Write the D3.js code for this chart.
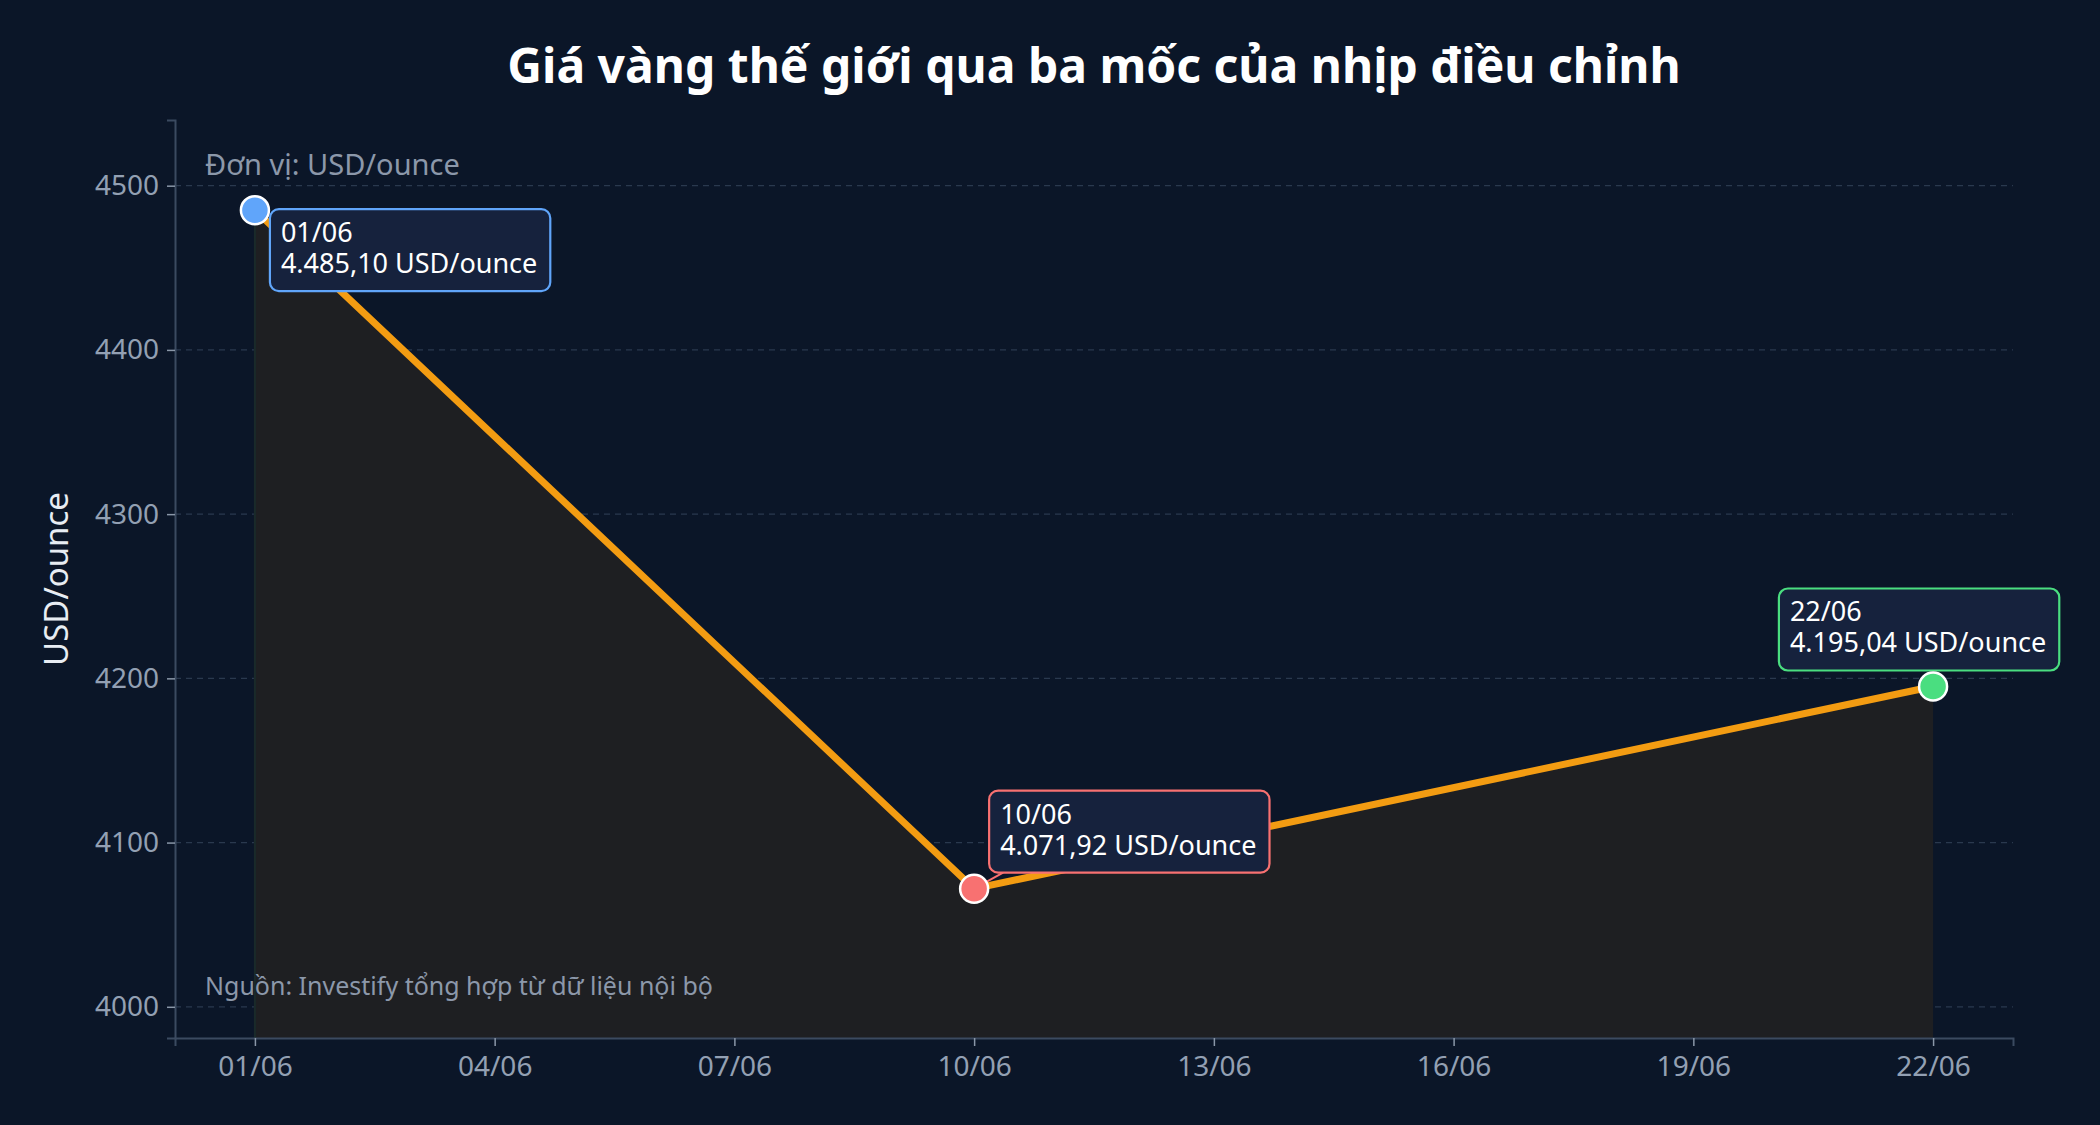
<!DOCTYPE html>
<html>
<head>
<meta charset="utf-8">
<script src="https://cdn.jsdelivr.net/npm/d3@7"></script>
<style>
  html, body { margin: 0; padding: 0; background: #0b1628; }
  body { width: 2100px; height: 1125px; overflow: hidden; font-family: "Noto Sans", sans-serif; }
</style>
</head>
<body>
<div id="chart"></div>
<script>
// data
const pointDates = ["01/06", "10/06", "22/06"];
const prices = [4485.10, 4071.92, 4195.04];
const pointColors = ["#60a5fa", "#f87171", "#4ade80"];
const xTickLabels = ["01/06", "04/06", "07/06", "10/06", "13/06", "16/06", "19/06", "22/06"];
const yTickValues = [4000, 4100, 4200, 4300, 4400, 4500];

const W = 2100, H = 1125;
const margin = { top: 120, right: 87, bottom: 87, left: 175 };
const width = W - margin.left - margin.right;
const height = H - margin.top - margin.bottom;

const parseDay = s => {
    const [d, m] = s.split("/").map(Number);
    return new Date(2025, m - 1, d);
};

const points = pointDates.map((d, i) => ({
    label: d,
    date: parseDay(d),
    value: prices[i],
    color: pointColors[i]
}));

// 4485.1 -> "4.485,10"
const fmtVN = v => {
    const [intPart, dec] = v.toFixed(2).split(".");
    return intPart.replace(/\B(?=(\d{3})+(?!\d))/g, ".") + "," + dec;
};

const svg = d3.select("#chart").append("svg")
    .attr("width", W)
    .attr("height", H);

svg.append("rect").attr("width", W).attr("height", H).attr("fill", "#0b1628");

const g = svg.append("g")
    .attr("transform", `translate(${margin.left},${margin.top})`);

// scales
const x = d3.scaleTime()
    .domain([d3.timeDay.offset(parseDay("01/06"), -1), d3.timeDay.offset(parseDay("22/06"), 1)])
    .range([0, width]);

const y = d3.scaleLinear()
    .domain([3981, 4540])
    .range([height, 0]);

// gridlines
g.append("g")
    .selectAll("line")
    .data(yTickValues)
    .join("line")
    .attr("x1", 0)
    .attr("x2", width)
    .attr("y1", d => y(d))
    .attr("y2", d => y(d))
    .attr("stroke", "#2a394e")
    .attr("stroke-width", 1.2)
    .attr("stroke-dasharray", "6,5");

// area under line
const area = d3.area()
    .x(d => x(d.date))
    .y0(height)
    .y1(d => y(d.value));

g.append("path")
    .datum(points)
    .attr("d", area)
    .attr("fill", "#1e1f22");

g.append("line")
    .attr("x1", x(points[0].date)).attr("x2", x(points[0].date))
    .attr("y1", y(points[0].value)).attr("y2", height)
    .attr("stroke", "#1a2a2a").attr("stroke-width", 2);

// axes
const xAxis = g.append("g")
    .attr("transform", `translate(0,${height})`)
    .call(d3.axisBottom(x)
        .tickValues(xTickLabels.map(parseDay))
        .tickFormat(d3.timeFormat("%d/%m"))
        .tickSizeOuter(0)
        .tickSize(8)
        .tickPadding(10));

const yAxis = g.append("g")
    .call(d3.axisLeft(y)
        .tickValues(yTickValues)
        .tickFormat(d => d)
        .tickSizeOuter(0)
        .tickSize(8)
        .tickPadding(8));

[xAxis, yAxis].forEach(ax => {
    ax.select(".domain").attr("stroke", "#3b4a60").attr("stroke-width", 2);
    ax.selectAll(".tick line").attr("stroke", "#8a97a8").attr("stroke-width", 1.5);
    ax.selectAll(".tick text")
        .attr("fill", "#93a0b3")
        .style("font-family", "Noto Sans")
        .style("font-size", "28px");
});

// line
const line = d3.line()
    .x(d => x(d.date))
    .y(d => y(d.value));

g.append("path")
    .datum(points)
    .attr("d", line)
    .attr("fill", "none")
    .attr("stroke", "#f39c12")
    .attr("stroke-width", 7)
    .attr("stroke-linejoin", "round");

// callouts
const placement = ["right", "upRight", "up"];
points.forEach((p, i) => {
    const px = x(p.date), py = y(p.value);
    const cg = g.append("g");
    const txt = cg.append("text")
        .attr("fill", "#ffffff")
        .style("font-family", "Noto Sans")
        .style("font-size", "27px");
    const t1 = txt.append("tspan").text(p.label);
    const t2 = txt.append("tspan").text(`${fmtVN(p.value)} USD/ounce`);
    const tw = Math.max(t1.node().getComputedTextLength(), t2.node().getComputedTextLength());
    const bw = tw + 24, bh = 82;
    let bx, by;
    if (placement[i] === "right") { bx = px + 15; by = py - 1; }
    else if (placement[i] === "upRight") { bx = px + 15; by = py - 98; }
    else { bx = px - bw / 2 - 14; by = py - 98; }

    if (placement[i] === "upRight") {
        cg.insert("line", "text")
            .attr("x1", px).attr("y1", py)
            .attr("x2", bx + 14).attr("y2", by + bh)
            .attr("stroke", p.color).attr("stroke-width", 2);
    }
    cg.insert("rect", "text")
        .attr("x", bx).attr("y", by)
        .attr("width", bw).attr("height", bh)
        .attr("rx", 9)
        .attr("fill", "#16223d")
        .attr("stroke", p.color)
        .attr("stroke-width", 2.2);
    t1.attr("x", bx + 11).attr("y", by + 33);
    t2.attr("x", bx + 11).attr("y", by + 64);
});

// points
g.selectAll("circle.pt")
    .data(points)
    .join("circle")
    .attr("class", "pt")
    .attr("cx", d => x(d.date))
    .attr("cy", d => y(d.value))
    .attr("r", 14)
    .attr("fill", d => d.color)
    .attr("stroke", "#ffffff")
    .attr("stroke-width", 2.5);

// notes
g.append("text")
    .attr("x", 30)
    .attr("y", 55)
    .attr("fill", "#8c98aa")
    .style("font-size", "29px")
    .text("Đơn vị: USD/ounce");

g.append("text")
    .attr("x", 30)
    .attr("y", height - 43)
    .attr("fill", "#8c98aa")
    .style("font-size", "25px")
    .text("Nguồn: Investify tổng hợp từ dữ liệu nội bộ");

// y label
svg.append("text")
    .attr("transform", `translate(68,${margin.top + height / 2}) rotate(-90)`)
    .attr("text-anchor", "middle")
    .attr("fill", "#e8edf3")
    .style("font-size", "33px")
    .text("USD/ounce");

// title, centred over the plot area
svg.append("text")
    .attr("x", margin.left + width / 2)
    .attr("y", 83)
    .attr("text-anchor", "middle")
    .attr("fill", "#ffffff")
    .style("font-size", "48px")
    .style("font-weight", "bold")
    .text("Giá vàng thế giới qua ba mốc của nhịp điều chỉnh");
</script>
</body>
</html>
